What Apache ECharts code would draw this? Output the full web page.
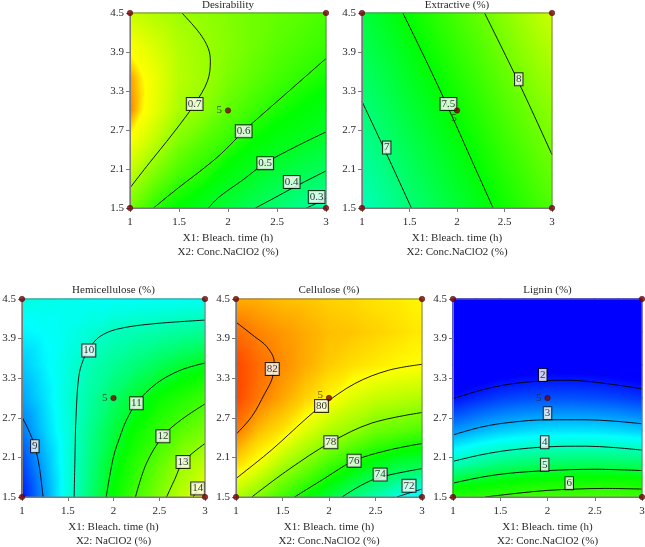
<!DOCTYPE html>
<html><head><meta charset="utf-8">
<script src="https://cdn.jsdelivr.net/npm/echarts@6/dist/echarts.min.js"></script>
<style>html,body{margin:0;padding:0;background:#fff}#c{width:645px;height:547px}</style>
</head><body><div id="c"></div>
<script>
// ---------- data ----------
const X1_GRID = [1, 1.25, 1.5, 1.75, 2, 2.25, 2.5, 2.75, 3];
const X2_GRID = [1.5, 2, 2.5, 3, 3.5, 4, 4.5];
const X_TICKS = [1, 1.5, 2, 2.5, 3];
const Y_TICKS = [1.5, 2.1, 2.7, 3.3, 3.9, 4.5];
const DESIGN_POINTS = [[1, 1.5], [1, 4.5], [3, 1.5], [3, 4.5], [2, 3]];
const CENTER_REPLICATES = '5';
const TITLES = ['Desirability', 'Extractive (%)', 'Hemicellulose (%)', 'Cellulose (%)', 'Lignin (%)'];
const X1_NAME = 'X1: Bleach. time (h)';
const X2_NAMES = ['X2: Conc.NaClO2 (%)', 'X2: Conc.NaClO2 (%)', 'X2: NaClO2 (%)', 'X2: Conc.NaClO2 (%)', 'X2: Conc.NaClO2 (%)'];

// response surfaces: one row per X2_GRID value, one column per X1_GRID value
const DESIRABILITY = [
  [0.665, 0.60, 0.553, 0.509, 0.458, 0.406, 0.358, 0.31, 0.26],
  [0.73, 0.67, 0.619, 0.59, 0.534, 0.495, 0.448, 0.41, 0.38],
  [0.785, 0.73, 0.672, 0.633, 0.605, 0.56, 0.525, 0.50, 0.472],
  [0.815, 0.77, 0.712, 0.685, 0.645, 0.613, 0.583, 0.555, 0.528],
  [0.81, 0.775, 0.725, 0.703, 0.67, 0.645, 0.62, 0.60, 0.575],
  [0.785, 0.755, 0.72, 0.70, 0.68, 0.66, 0.64, 0.625, 0.61],
  [0.74, 0.72, 0.70, 0.69, 0.675, 0.66, 0.65, 0.64, 0.625]
];
const EXTRACTIVE = [
  [6.70, 6.84, 6.99, 7.13, 7.27, 7.41, 7.56, 7.70, 7.84],
  [6.79, 6.93, 7.08, 7.22, 7.36, 7.50, 7.65, 7.79, 7.93],
  [6.88, 7.02, 7.17, 7.31, 7.45, 7.59, 7.74, 7.88, 8.02],
  [6.97, 7.11, 7.26, 7.40, 7.54, 7.68, 7.83, 7.97, 8.11],
  [7.06, 7.20, 7.35, 7.49, 7.63, 7.77, 7.92, 8.06, 8.20],
  [7.15, 7.29, 7.44, 7.58, 7.72, 7.86, 8.01, 8.15, 8.29],
  [7.24, 7.38, 7.53, 7.67, 7.81, 7.95, 8.10, 8.24, 8.38]
];
const HEMICELLULOSE = [
  [8.32, 9.05, 9.8, 10.5, 11.25, 12.03, 12.75, 13.5, 14.3],
  [8.57, 9.17, 9.8, 10.4, 11.04, 11.7, 12.37, 13.08, 13.5],
  [8.85, 9.35, 9.82, 10.32, 10.81, 11.3, 11.82, 12.3, 12.65],
  [9.1, 9.45, 9.85, 10.2, 10.56, 10.92, 11.27, 11.6, 11.9],
  [9.3, 9.55, 9.82, 10.07, 10.27, 10.47, 10.67, 10.87, 11.06],
  [9.55, 9.62, 9.72, 9.86, 10.0, 10.08, 10.15, 10.22, 10.28],
  [9.8, 9.75, 9.7, 9.66, 9.64, 9.64, 9.64, 9.65, 9.66]
];
const CELLULOSE = [
  [78.6, 77.7, 76.6, 75.6, 74.6, 73.6, 72.8, 71.9, 71.2],
  [80.6, 79.75, 78.55, 77.67, 76.7, 75.86, 75.1, 74.6, 74.4],
  [82.1, 81.0, 80.4, 79.4, 78.6, 78.1, 77.4, 77.1, 76.8],
  [82.9, 82.1, 81.4, 80.7, 80.1, 79.4, 79.0, 78.8, 78.6],
  [82.9, 82.3, 81.8, 81.3, 80.8, 80.5, 80.3, 80.1, 80.0],
  [82.3, 81.9, 81.6, 81.3, 81.0, 80.9, 80.7, 80.5, 80.3],
  [81.3, 81.2, 81.0, 80.9, 80.7, 80.6, 80.4, 80.3, 80.1]
];
const LIGNIN = [
  [5.85, 5.96, 6.1, 6.25, 6.33, 6.38, 6.4, 6.37, 6.3],
  [4.1, 4.35, 4.54, 4.65, 4.72, 4.76, 4.77, 4.75, 4.71],
  [2.9, 3.1, 3.26, 3.35, 3.41, 3.42, 3.41, 3.36, 3.28],
  [1.98, 2.16, 2.32, 2.4, 2.44, 2.44, 2.41, 2.35, 2.26],
  [1.35, 1.5, 1.62, 1.68, 1.72, 1.72, 1.7, 1.64, 1.55],
  [0.9, 1.0, 1.1, 1.16, 1.2, 1.2, 1.18, 1.12, 1.05],
  [0.6, 0.7, 0.78, 0.82, 0.85, 0.86, 0.85, 0.8, 0.75]
];

// response values at which the colour ramp is blue, cyan, green, yellow, red
const DES_COLOR_LEVELS = [-0.15, 0.1, 0.56, 0.79, 0.84];
const EXT_COLOR_LEVELS = [5.6, 6.4, 7.5, 8.6, 9.6];
const HEM_COLOR_LEVELS = [8.2, 9.6, 11.2, 14.3, 16.5];
const CEL_COLOR_LEVELS = [69.5, 71.5, 75.5, 80.0, 84.0];
const LIG_COLOR_LEVELS = [1.9, 3.6, 5.4, 9.0, 11.0];

// contour lines [X1, X2]
const DES_C07 = [[1.53, 4.5], [1.71, 4.19], [1.80, 3.95], [1.82, 3.75], [1.79, 3.45], [1.66, 3.1], [1.44, 2.65], [1.17, 2.14], [1, 1.81]];
const DES_C06 = [[1.24, 1.5], [1.51, 1.83], [1.71, 2.06], [1.92, 2.32], [2.16, 2.68], [2.29, 2.86], [2.6, 3.27], [3, 3.80]];
const DES_C05 = [[1.80, 1.5], [1.91, 1.67], [2.15, 1.93], [2.38, 2.19], [2.7, 2.45], [3, 2.67]];
const DES_C04 = [[2.28, 1.5], [2.43, 1.62], [2.7, 1.84], [3, 2.07]];
const DES_C03 = [[2.8, 1.5], [2.9, 1.57], [3, 1.65]];
const DES_LABELS = [['0.7', 1.66, 3.1], ['0.6', 2.16, 2.68], ['0.5', 2.38, 2.19], ['0.4', 2.65, 1.9], ['0.3', 2.905, 1.67]];

const EXT_C7 = [[1, 3.14], [1.25, 2.36], [1.52, 1.5]];
const EXT_C75 = [[1.43, 4.5], [1.68, 3.75], [1.92, 3.0], [2.15, 2.25], [2.38, 1.5]];
const EXT_C8 = [[2.29, 4.5], [2.65, 3.43], [3, 2.32]];
const EXT_LABELS = [['7', 1.26, 2.43], ['7.5', 1.91, 3.1], ['8', 2.65, 3.48]];

const HEM_C9 = [[1, 2.71], [1.07, 2.52], [1.14, 2.27], [1.19, 1.95], [1.23, 1.5]];
const HEM_C10 = [[1.57, 1.5], [1.58, 2.2], [1.59, 2.71], [1.62, 3.32], [1.67, 3.58], [1.75, 3.78], [1.85, 3.93], [2.03, 4.04], [2.40, 4.12], [3, 4.18]];
const HEM_C11 = [[1.92, 1.5], [2.0, 2.11], [2.07, 2.41], [2.14, 2.66], [2.25, 2.92], [2.47, 3.22], [2.73, 3.42], [3, 3.53]];
const HEM_C12 = [[2.24, 1.5], [2.36, 2.01], [2.54, 2.42], [2.73, 2.66], [3, 2.91]];
const HEM_C13 = [[2.58, 1.5], [2.67, 1.77], [2.76, 2.03], [3, 2.31]];
const HEM_C14 = [[2.87, 1.5], [2.93, 1.62], [3, 1.72]];
const HEM_LABELS = [['9', 1.14, 2.27], ['10', 1.73, 3.72], ['11', 2.25, 2.92], ['12', 2.54, 2.42], ['13', 2.76, 2.03], ['14', 2.92, 1.63]];

const CEL_C82 = [[1, 4.15], [1.20, 3.93], [1.33, 3.78], [1.41, 3.55], [1.39, 3.3], [1.31, 3.07], [1.17, 2.72], [1, 2.45]];
const CEL_C80 = [[1, 1.78], [1.38, 2.21], [1.74, 2.67], [1.92, 2.88], [2.28, 3.22], [2.64, 3.42], [3, 3.51]];
const CEL_C78 = [[1.17, 1.5], [1.56, 1.91], [2.02, 2.33], [2.46, 2.62], [3, 2.78]];
const CEL_C76 = [[1.63, 1.5], [1.95, 1.78], [2.27, 2.05], [2.64, 2.21], [3, 2.31]];
const CEL_C74 = [[2.14, 1.5], [2.35, 1.68], [2.55, 1.80], [3, 1.93]];
const CEL_C72 = [[2.73, 1.5], [2.86, 1.56], [3, 1.62]];
const CEL_LABELS = [['82', 1.39, 3.44], ['80', 1.92, 2.88], ['78', 2.02, 2.33], ['76', 2.27, 2.05], ['74', 2.55, 1.84], ['72', 2.86, 1.67]];

const LIG_C2 = [[1, 2.99], [1.3, 3.12], [1.6, 3.21], [1.95, 3.26], [2.19, 3.27], [2.5, 3.24], [3, 3.14]];
const LIG_C3 = [[1, 2.44], [1.3, 2.56], [1.6, 2.63], [2.0, 2.67], [2.4, 2.67], [2.7, 2.65], [3, 2.61]];
const LIG_C4 = [[1, 2.04], [1.3, 2.14], [1.6, 2.21], [2.0, 2.26], [2.4, 2.27], [2.7, 2.25], [3, 2.21]];
const LIG_C5 = [[1, 1.71], [1.3, 1.80], [1.6, 1.86], [2.0, 1.90], [2.5, 1.92], [3, 1.90]];
const LIG_C6 = [[1.34, 1.5], [1.7, 1.56], [2.0, 1.6], [2.3, 1.62], [2.6, 1.63], [3, 1.62]];
const LIG_LABELS = [['2', 1.95, 3.35], ['3', 2.0, 2.77], ['4', 1.97, 2.33], ['5', 1.97, 1.99], ['6', 2.23, 1.71]];

// ---------- layout / style ----------
const BOXES = [[130, 13, 196, 195], [362, 13, 190, 195], [22, 299, 183, 198], [236, 299, 186, 198], [453, 299, 189, 198]];
const CENTER_LABEL_POS = [
  {position: 'left', distance: 3, offset: [0, 0]},
  {position: 'bottom', distance: 1, offset: [-3, -2]},
  {position: 'left', distance: 3, offset: [0, 0]},
  {position: 'left', distance: 3, offset: [0, -3]},
  {position: 'left', distance: 3, offset: [0, 0]}
];
const FONT = '"Liberation Serif", "DejaVu Serif", serif';
const TXT = '#2a2a2a';
const AXC = '#7a7a7a';
const RAMP = [[0, 0, 255], [0, 255, 255], [0, 255, 0], [255, 255, 0], [255, 0, 0]];
const PAD = 0.5;

const PANELS = [
  {surf: DESIRABILITY, levels: DES_COLOR_LEVELS, contours: [DES_C07, DES_C06, DES_C05, DES_C04, DES_C03], labels: DES_LABELS},
  {surf: EXTRACTIVE, levels: EXT_COLOR_LEVELS, contours: [EXT_C7, EXT_C75, EXT_C8], labels: EXT_LABELS},
  {surf: HEMICELLULOSE, levels: HEM_COLOR_LEVELS, contours: [HEM_C9, HEM_C10, HEM_C11, HEM_C12, HEM_C13, HEM_C14], labels: HEM_LABELS},
  {surf: CELLULOSE, levels: CEL_COLOR_LEVELS, contours: [CEL_C82, CEL_C80, CEL_C78, CEL_C76, CEL_C74, CEL_C72], labels: CEL_LABELS},
  {surf: LIGNIN, levels: LIG_COLOR_LEVELS, contours: [LIG_C2, LIG_C3, LIG_C4, LIG_C5, LIG_C6], labels: LIG_LABELS}
];

function colorAt(levels, v) {
  let c;
  if (v <= levels[0]) c = RAMP[0];
  else if (v >= levels[levels.length - 1]) c = RAMP[RAMP.length - 1];
  else {
    for (let k = 0; k < levels.length - 1; k++) {
      if (v <= levels[k + 1]) {
        const t = (v - levels[k]) / (levels[k + 1] - levels[k]);
        c = RAMP[k].map((a, n) => a + (RAMP[k + 1][n] - a) * t);
        break;
      }
    }
  }
  return 'rgb(' + c.map(Math.round).join(',') + ')';
}

// colour of a triangle whose corner values vary linearly: a global linear gradient
function triFill(A, B, C, levels) {
  const d1x = B.x - A.x, d1y = B.y - A.y, d2x = C.x - A.x, d2y = C.y - A.y;
  const dv1 = B.v - A.v, dv2 = C.v - A.v;
  const det = d1x * d2y - d1y * d2x;
  const vlo = Math.min(A.v, B.v, C.v), vhi = Math.max(A.v, B.v, C.v);
  if (Math.abs(det) < 1e-9 || vhi - vlo < 1e-6) return colorAt(levels, (vlo + vhi) / 2);
  const ax = (dv1 * d2y - d1y * dv2) / det;
  const ay = (d1x * dv2 - dv1 * d2x) / det;
  const g2 = ax * ax + ay * ay;
  const sx = A.x + ax * (vlo - A.v) / g2, sy = A.y + ay * (vlo - A.v) / g2;
  const ex = A.x + ax * (vhi - A.v) / g2, ey = A.y + ay * (vhi - A.v) / g2;
  const stops = [{offset: 0, color: colorAt(levels, vlo)}];
  levels.forEach(l => { if (l > vlo && l < vhi) stops.push({offset: (l - vlo) / (vhi - vlo), color: colorAt(levels, l)}); });
  stops.push({offset: 1, color: colorAt(levels, vhi)});
  return new echarts.graphic.LinearGradient(sx, sy, ex, ey, stops, true);
}

const grids = [], xAxes = [], yAxes = [], series = [], graphics = [];
PANELS.forEach((p, k) => {
  const [l, t, w, h] = BOXES[k];
  grids.push({left: l, top: t, width: w, height: h, show: true, borderColor: AXC, borderWidth: 1,
    backgroundColor: 'rgba(0,0,0,0)', z: 8, containLabel: false, outerBoundsMode: 'none'});
  xAxes.push({type: 'value', gridIndex: k, min: 1, max: 3, interval: 0.5,
    name: X1_NAME + '\n' + X2_NAMES[k], nameLocation: 'middle', nameGap: 23,
    nameTextStyle: {fontFamily: FONT, fontSize: 11, lineHeight: 14, color: TXT},
    axisLine: {show: true, onZero: false, lineStyle: {color: AXC, width: 1}},
    axisTick: {show: true, length: 4, lineStyle: {color: AXC}},
    axisLabel: {margin: 9, fontFamily: FONT, fontSize: 11, color: TXT, customValues: X_TICKS},
    splitLine: {show: false}, z: 9});
  yAxes.push({type: 'value', gridIndex: k, min: 1.5, max: 4.5,
    axisLine: {show: true, onZero: false, lineStyle: {color: AXC, width: 1}},
    axisTick: {show: true, length: 4, lineStyle: {color: AXC}, customValues: Y_TICKS},
    axisLabel: {margin: 6, fontFamily: FONT, fontSize: 11, color: TXT, customValues: Y_TICKS,
      formatter: v => Number(v).toFixed(1)},
    splitLine: {show: false}, z: 9});

  const cells = [];
  for (let j = 0; j < X2_GRID.length - 1; j++)
    for (let i = 0; i < X1_GRID.length - 1; i++)
      cells.push([X1_GRID[i], X2_GRID[j], i, j]);
  series.push({
    type: 'custom', xAxisIndex: k, yAxisIndex: k, silent: true, z: 1, animation: false,
    data: cells, encode: {x: 0, y: 1},
    renderItem: (params, api) => {
      const i = api.value(2), j = api.value(3);
      const pt = (a, b) => { const c = api.coord([X1_GRID[a], X2_GRID[b]]); return {x: c[0], y: c[1], v: p.surf[b][a]}; };
      const P00 = pt(i, j), P10 = pt(i + 1, j), P11 = pt(i + 1, j + 1), P01 = pt(i, j + 1);
      const f1 = triFill(P00, P10, P11, p.levels);
      const f2 = triFill(P00, P11, P01, p.levels);
      const x0 = Math.min(P00.x, P10.x) - PAD, x1 = Math.max(P00.x, P10.x) + PAD;
      const yb = P00.y + PAD, yt = P11.y - PAD;
      return {type: 'group', children: [
        {type: 'polygon', shape: {points: [[x0, yb], [x1, yb], [x1, yt], [x0, yt]]}, style: {fill: f1}},
        {type: 'polygon', shape: {points: [[P00.x - PAD, P00.y + PAD], [P11.x + PAD, P11.y - PAD], [P01.x - PAD, P01.y - PAD]]}, style: {fill: f2}}
      ]};
    }
  });

  p.contours.forEach(c => series.push({
    type: 'line', xAxisIndex: k, yAxisIndex: k, data: c, smooth: 0.35, showSymbol: false,
    symbol: 'none', silent: true, animation: false, clip: true, z: 4,
    lineStyle: {color: '#000', width: 0.9}
  }));

  series.push({
    type: 'scatter', xAxisIndex: k, yAxisIndex: k, silent: true, animation: false, z: 6,
    symbol: 'rect', symbolSize: 1, itemStyle: {color: 'rgba(0,0,0,0)'},
    data: p.labels.map(a => ({name: a[0], value: [a[1], a[2]]})),
    label: {show: true, position: 'inside', formatter: '{b}', fontFamily: FONT, fontSize: 11,
      lineHeight: 11, color: '#000', backgroundColor: '#fff', borderColor: '#000', borderWidth: 1,
      padding: [1, 1, 0, 1]}
  });

  series.push({
    type: 'scatter', xAxisIndex: k, yAxisIndex: k, silent: true, animation: false, z: 10,
    symbol: 'circle', symbolSize: 5.5,
    itemStyle: {color: '#7d0000', borderColor: '#3a0000', borderWidth: 0.6},
    data: DESIGN_POINTS.map((d, n) => n === DESIGN_POINTS.length - 1
      ? {value: d, label: Object.assign({show: true, formatter: CENTER_REPLICATES, fontFamily: FONT,
          fontSize: 11, color: TXT}, CENTER_LABEL_POS[k])}
      : {value: d}),
    label: {show: false}
  });

  graphics.push({type: 'text', x: l + w / 2, y: k < 2 ? 5 : 290.5, silent: true,
    style: {text: TITLES[k], align: 'center', verticalAlign: 'middle', textAlign: 'center',
      textVerticalAlign: 'middle', fontFamily: FONT, fontSize: 11, fill: TXT}});
});

const chart = echarts.init(document.getElementById('c'), null, {renderer: 'canvas'});
chart.setOption({
  animation: false,
  backgroundColor: '#fff',
  grid: grids, xAxis: xAxes, yAxis: yAxes, series: series, graphic: graphics
});
</script></body></html>
